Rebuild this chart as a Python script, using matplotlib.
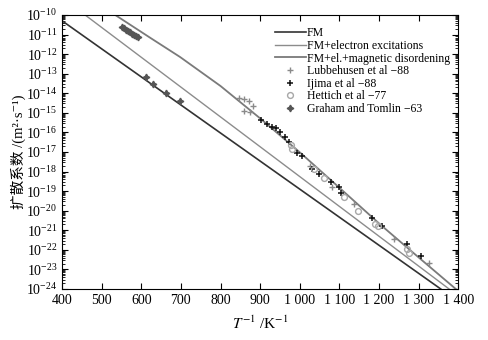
import matplotlib
matplotlib.use("Agg")
import matplotlib.pyplot as plt
from matplotlib.ticker import LogLocator, NullFormatter, FixedLocator
import numpy as np

# -------------------------------
# Fonts: serif for Latin text, CJK fallback for the Chinese label
# -------------------------------
plt.rcParams['font.family'] = ['Liberation Serif', 'Noto Sans CJK SC', 'DejaVu Serif']
plt.rcParams['mathtext.fontset'] = 'stix'

# -------------------------------
# Model lines (x, log10 D)
# -------------------------------
fm_x = [400, 1356]
fm_logD = [-10.3, -24.0]

el_x = [458, 1377]
el_logD = [-10.0, -24.0]

mag_x = [534, 622, 698, 800, 901, 1002, 1103, 1204, 1305, 1394]
mag_logD = [-10.0, -11.16, -12.15, -13.63, -15.30, -17.05, -18.88, -20.72, -22.47, -24.0]

# -------------------------------
# Experimental points (x, log10 D)
# -------------------------------
lub_x = [846, 858, 871, 883, 858, 875, 1027, 1082, 1136, 1238, 1326]
lub_logD = [-14.22, -14.30, -14.39, -14.64, -14.89, -14.97, -17.72, -18.80, -19.64, -21.44, -22.69]

iji_x = [901, 918, 930, 939, 951, 964, 972, 993, 1006, 1031, 1048, 1078, 1099, 1103,
         1183, 1208, 1272, 1305]
iji_logD = [-15.39, -15.55, -15.72, -15.80, -15.97, -16.22, -16.47, -17.05, -17.22, -17.89,
            -18.14, -18.55, -18.80, -19.09, -20.39, -20.80, -21.72, -22.30]

het_x = [977, 981, 1035, 1061, 1111, 1147, 1191, 1197, 1272, 1276]
het_logD = [-16.64, -16.83, -17.89, -18.33, -19.30, -20.02, -20.69, -20.80, -21.97, -22.15]

gra_x = [552, 556, 561, 566, 571, 576, 581, 586, 591, 612, 629, 663, 697]
gra_logD = [-10.62, -10.68, -10.75, -10.82, -10.88, -10.95, -11.01, -11.08, -11.15,
            -13.18, -13.52, -13.97, -14.42]

xticks = [400, 500, 600, 700, 800, 900, 1000, 1100, 1200, 1300, 1400]
xtick_labels = ['400', '500', '600', '700', '800', '900', '1 000', '1 100', '1 200', '1 300', '1 400']

# -------------------------------
# Plot
# -------------------------------
fig = plt.figure(figsize=(4.89, 3.40), dpi=100)
ax = fig.add_axes([0.127, 0.15, 0.81, 0.806])

ax.plot(fm_x, 10.0 ** np.array(fm_logD), color='#333333', lw=1.2, label='FM')
ax.plot(el_x, 10.0 ** np.array(el_logD), color='#8c8c8c', lw=1.0, label='FM+electron excitations')
ax.plot(mag_x, 10.0 ** np.array(mag_logD), color='#7a7a7a', lw=1.3,
        label='FM+el.+magnetic disordening')

ax.plot(lub_x, 10.0 ** np.array(lub_logD), '+', color='#8a8a8a', ms=4.5, mew=1.0,
        label='Lubbehusen et al \u221288')
ax.plot(iji_x, 10.0 ** np.array(iji_logD), '+', color='#111111', ms=4.5, mew=1.1,
        label='Ijima et al \u221288')
ax.plot(het_x, 10.0 ** np.array(het_logD), 'o', mfc='none', mec='#a8a8a8', ms=4.2, mew=1.0,
        label='Hettich et al \u221277')
ax.plot(gra_x, 10.0 ** np.array(gra_logD), marker=(4, 1, 0), ls='none', color='#555555',
        ms=4.8, label='Graham and Tomlin \u221263')

ax.set_yscale('log')
ax.set_xlim(400, 1400)
ax.set_ylim(1e-24, 1e-10)

ax.yaxis.set_major_locator(LogLocator(base=10, numticks=20))
ax.yaxis.set_minor_locator(LogLocator(base=10, subs=np.arange(2, 10), numticks=20))
ax.yaxis.set_minor_formatter(NullFormatter())
ax.xaxis.set_major_locator(FixedLocator(xticks))
ax.set_xticklabels(xtick_labels)

ax.tick_params(which='both', direction='in', top=True, right=True, labelsize=10)
ax.tick_params(which='major', length=4)
ax.tick_params(which='minor', length=2)

ax.set_xlabel(r'$T^{-1}$ /K$^{-1}$', fontsize=11, labelpad=6)
ax.set_ylabel('扩散系数 /(m\u00b2\u00b7s\u207b\u00b9)', fontsize=10.5, labelpad=0)

ax.legend(loc='upper right', bbox_to_anchor=(1.0, 0.985), frameon=False, fontsize=8.5,
          handlelength=2.6, handletextpad=0.1, labelspacing=0.05, borderpad=0.2,
          numpoints=1)

fig.savefig('out.png', dpi=100)
